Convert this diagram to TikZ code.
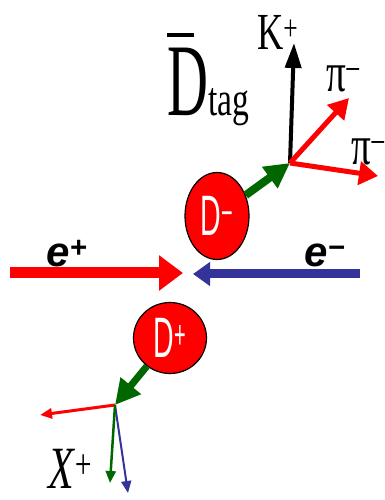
\documentclass[tikz,border=0pt]{standalone}
\usepackage{fontspec}
\setmainfont{Liberation Serif}
\setsansfont{Liberation Sans}
\newfontfamily\labelfont[FakeStretch=0.7]{Liberation Serif}
\newfontfamily\bigdfont[FakeStretch=0.55]{Liberation Serif}
\newfontfamily\ballfont[FakeStretch=0.5]{Liberation Sans}
\usetikzlibrary{arrows.meta, shapes.geometric}

\definecolor{beamblue}{RGB}{51,51,153}
\definecolor{trackgreen}{RGB}{0,102,0}

\begin{document}
\begin{tikzpicture}[
    x=1pt, y=1pt,
    meson/.style={ellipse, draw=black, line width=1.2pt, fill=red, inner sep=0pt, text=white, font=\ballfont\fontsize{57}{57}\selectfont},
    lbl/.style={inner sep=0pt, anchor=base west, font=\labelfont\fontsize{52}{52}\selectfont},
    beamlbl/.style={inner sep=0pt, anchor=base west, font=\sffamily\bfseries\itshape\fontsize{42}{42}\selectfont},
    thicktrack/.style={line width=#1, -{Triangle[length=25pt, width=25pt]}},
    thintrack/.style={line width=#1, -{Triangle[length=12pt, width=10pt]}}
]
    \useasboundingbox (0,0) rectangle (385,500);

    % Beams
    \coordinate (epL) at (10,227);
    \coordinate (epR) at (183,227);
    \coordinate (emR) at (360,226);
    \coordinate (emL) at (193,226);
    \draw[red, line width=11pt, -{Triangle[length=24pt, width=34pt]}] (epL) -- (epR);
    \draw[beamblue, line width=9pt, -{Triangle[length=17pt, width=23pt]}] (emR) -- (emL);
    \node[beamlbl] (eplbl) at (46,233) {e\textsuperscript{+}};
    \node[beamlbl] (emlbl) at (304,233) {e\textsuperscript{−}};

    % D mesons
    \node[meson, minimum width=64pt, minimum height=87pt] (dminus) at (217,284) {D\textsuperscript{−}};
    \node[meson, minimum width=73pt, minimum height=71pt] (dplus) at (170,162) {D\textsuperscript{+}};

    % Tag side
    \coordinate (tagvtx) at (290,337);
    \coordinate (ktip) at (294,457);
    \coordinate (pitop) at (349,402);
    \coordinate (piright) at (378,324);
    \draw[black, line width=4pt, -{Triangle[length=25pt, width=16pt]}] (tagvtx) -- (ktip);
    \draw[red, line width=5pt, -{Triangle[length=20pt, width=22pt]}] (tagvtx) -- (pitop);
    \draw[red, line width=5pt, -{Triangle[length=19pt, width=23pt]}] (tagvtx) -- (piright);
    \draw[trackgreen, thicktrack=8pt] (dminus) -- (tagvtx);

    \node[lbl] (klbl) at (257,450) {K\textsuperscript{+}};
    \node[lbl, font=\labelfont\fontsize{56}{56}\selectfont] (pilbla) at (326,408) {π\textsuperscript{−}};
    \node[lbl, font=\labelfont\fontsize{56}{56}\selectfont] (pilblb) at (351,335) {π\textsuperscript{−}};
    \node[inner sep=0pt, anchor=base west] (dtaglbl) at (167,384)
        {{\bigdfont\fontsize{103}{103}\selectfont\makebox[0pt][l]{\rule[79pt]{27pt}{3.5pt}}D}{\labelfont\fontsize{48}{48}\selectfont tag}};

    % Signal side
    \coordinate (xvtx) at (115,95);
    \coordinate (xred) at (40,85);
    \coordinate (xgreen) at (110,17);
    \coordinate (xblue) at (128,7);
    \draw[red, thintrack=3pt] (xvtx) -- (xred);
    \draw[beamblue, thintrack=2pt] (xvtx) -- (xblue);
    \draw[trackgreen, thintrack=2.5pt] (xvtx) -- (xgreen);
    \draw[trackgreen, thicktrack=7pt] (dplus) -- (xvtx);
    \node[lbl, font=\labelfont\itshape\fontsize{60}{60}\selectfont] (xlbl) at (48,12) {X\textsuperscript{+}};
\end{tikzpicture}
\end{document}
